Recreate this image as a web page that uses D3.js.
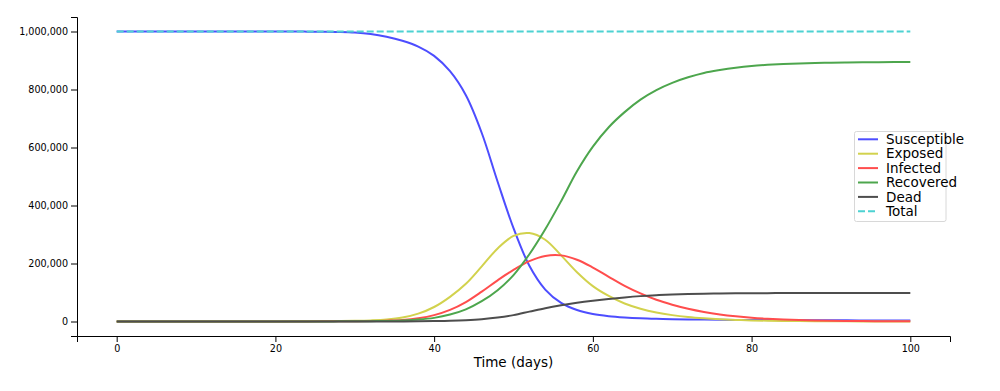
<!DOCTYPE html>
<html>
<head>
<meta charset="utf-8">
<script src="https://cdn.jsdelivr.net/npm/d3@7"></script>
<style>
  html, body { margin: 0; padding: 0; background: #fff; }
  svg { display: block; font-family: "DejaVu Sans", sans-serif; }
</style>
</head>
<body>
<svg id="chart" width="1000" height="391"></svg>
<script>
// ---- data ----
const days = [0,2,4,6,8,10,12,14,16,18,20,22,24,26,28,30,32,34,36,38,40,42,44,46,48,50,
  52,54,56,58,60,62,64,66,68,70,72,74,76,78,80,82,84,86,88,90,92,94,96,98,100];

const susceptible = [999990,999988,999985,999982,999978,999970,999960,999945,999920,999880,
  999820,999720,999550,999250,998500,996500,991500,982000,968000,948000,
  916000,863000,780000,650000,482000,322000,192000,110000,64000,39500,
  26000,18500,14000,11000,9200,8000,7100,6500,6000,5600,
  5300,5000,4700,4500,4300,4100,3900,3800,3700,3600,3500];

const exposed = [0,10,20,30,40,60,80,110,160,230,
  330,480,700,1000,1500,2300,3800,6800,13500,27000,
  50000,85000,130000,190000,252000,295000,305000,282000,228000,170000,
  122000,88000,62000,44000,31000,22000,15500,11000,7700,5400,
  3800,2700,1900,1300,950,650,460,320,230,160,110];

const infected = [0,5,10,15,20,30,40,55,80,115,
  165,240,350,500,730,1050,1700,2800,5000,11000,
  22000,40000,67000,103000,142000,178000,208000,226000,228000,213000,
  186000,154000,123000,97000,75000,58000,44000,33000,24500,18000,
  13000,9500,7000,5000,3700,2700,2000,1500,1100,800,600];

const recovered = [0,2,5,8,12,18,25,35,50,75,
  105,150,220,320,460,700,1100,1800,3300,6500,
  12500,24000,42000,70000,108000,160000,232000,318000,415000,518000,
  603000,670000,722000,765000,798000,823000,842000,857000,867000,875000,
  881000,885000,888000,890000,891500,892500,893300,893900,894300,894600,894800];

const dead = [0,0,1,1,1,2,3,4,6,8,
  12,17,25,36,52,80,120,200,360,700,
  1300,2500,4600,8000,13500,22000,34000,46000,56000,64500,
  71500,77500,83000,87500,90800,93200,94900,96000,96800,97300,
  97600,97800,97950,98050,98120,98170,98200,98230,98250,98260,98270];

const totalDays = [0, 100];
const totalValues = [1000000, 1000000];

const seriesNames = ["Susceptible", "Exposed", "Infected", "Recovered", "Dead", "Total"];
const seriesColors = ["#4d4dff", "#d2d24d", "#ff4d4d", "#4da64d", "#4d4d4d", "#4dd2d2"];

const xTicks = [0, 20, 40, 60, 80, 100];
const yTicks = [0, 200000, 400000, 600000, 800000, 1000000];

// ---- layout ----
const svg = d3.select("#chart");
const plotLeft = 77, plotRight = 950, plotTop = 17, plotBottom = 336;

const x = d3.scaleLinear().domain([-5, 105]).range([plotLeft, plotRight]);
const y = d3.scaleLinear().domain([-50000, 1050000]).range([plotBottom, plotTop]);

// axes
const fmt = d3.format(",");
svg.append("g")
  .attr("transform", `translate(${plotLeft},0)`)
  .call(d3.axisLeft(y).tickValues(yTicks).tickFormat(fmt))
  .call(g => g.selectAll("text").attr("font-size", "9.6px").attr("font-family", "DejaVu Sans, sans-serif").attr("fill", "#000"));

svg.append("g")
  .attr("transform", `translate(0,${plotBottom})`)
  .call(d3.axisBottom(x).tickValues(xTicks).tickFormat(d3.format("d")))
  .call(g => g.selectAll("text").attr("font-size", "9.6px").attr("font-family", "DejaVu Sans, sans-serif").attr("fill", "#000"));

svg.append("text")
  .attr("x", (plotLeft + plotRight) / 2)
  .attr("y", 367)
  .attr("text-anchor", "middle")
  .attr("font-size", "13.5px")
  .attr("fill", "#000")
  .text("Time (days)");

// lines
const allSeries = [susceptible, exposed, infected, recovered, dead];
const line = d3.line()
  .x(d => x(d[0]))
  .y(d => y(d[1]))
  .curve(d3.curveCatmullRom.alpha(0.5));

allSeries.forEach((vals, i) => {
  svg.append("path")
    .datum(days.map((d, j) => [d, vals[j]]))
    .attr("fill", "none")
    .attr("stroke", seriesColors[i])
    .attr("stroke-width", 2)
    .attr("d", line);
});

svg.append("path")
  .datum(totalDays.map((d, j) => [d, totalValues[j]]))
  .attr("fill", "none")
  .attr("stroke", seriesColors[5])
  .attr("stroke-width", 2)
  .attr("stroke-dasharray", "7,3")
  .attr("d", line);

// legend
const lg = svg.append("g");
lg.append("rect")
  .attr("x", 854.5).attr("y", 131.5)
  .attr("width", 91.5).attr("height", 90)
  .attr("rx", 2)
  .attr("fill", "#fff")
  .attr("fill-opacity", 0.8)
  .attr("stroke", "#d8d8d8")
  .attr("stroke-width", 1);

seriesNames.forEach((name, i) => {
  const cy = 139.3 + i * 14.4;
  lg.append("line")
    .attr("x1", 858).attr("x2", 878)
    .attr("y1", cy).attr("y2", cy)
    .attr("stroke", seriesColors[i])
    .attr("stroke-width", 2)
    .attr("stroke-dasharray", i === 5 ? "7,3" : null);
  lg.append("text")
    .attr("x", 886).attr("y", cy)
    .attr("dy", "0.35em")
    .attr("font-size", "13.5px")
    .attr("fill", "#000")
    .text(name);
});
</script>
</body>
</html>
